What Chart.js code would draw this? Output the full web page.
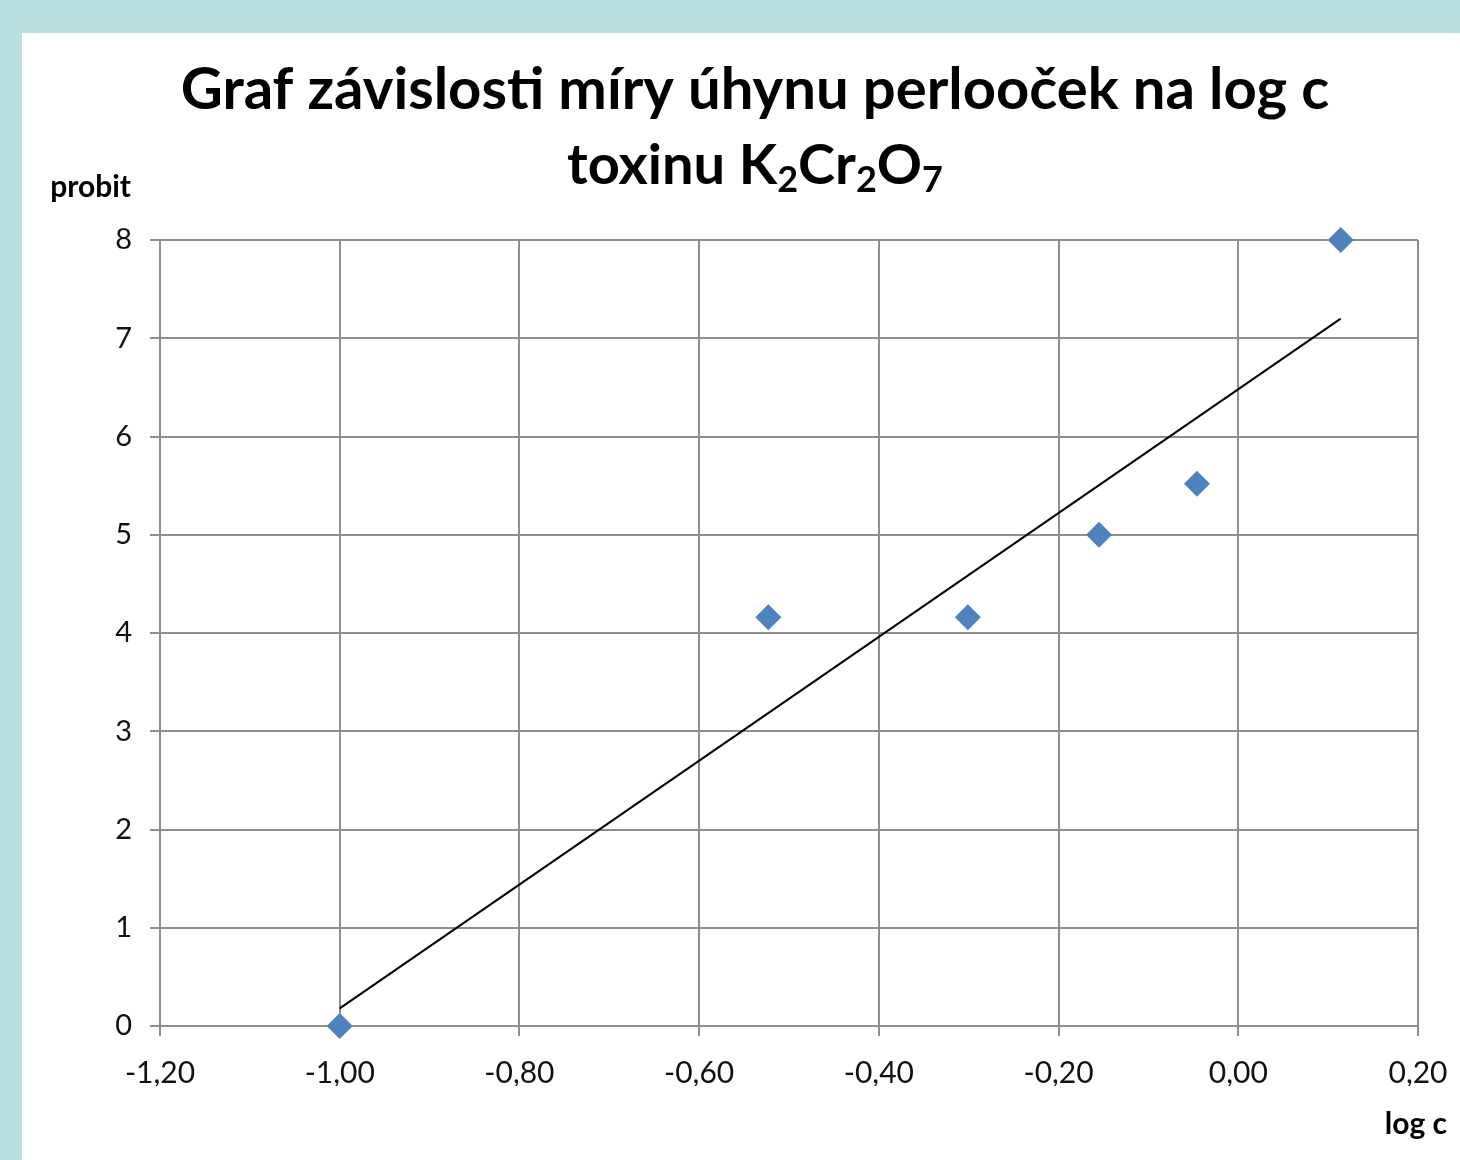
<!DOCTYPE html>
<html lang="cs">
<head>
  <meta charset="UTF-8" />
  <title>Graf závislosti míry úhynu perlooček na log c</title>
  <script src="https://cdn.jsdelivr.net/npm/chart.js"></script>
  <style>
    html, body { margin: 0; padding: 0; }
    body { background: #badfe2; width: 1460px; height: 1160px; position: relative; overflow: hidden; }
    #panel { position: absolute; left: 22px; top: 33px; width: 1438px; height: 1127px; background: #fff; }
  </style>
</head>
<body>
  <div id="panel"><canvas id="probitChart"></canvas></div>

  <script>
    // measured points: log c vs probit
    const logC = [-1.00, -0.523, -0.301, -0.155, -0.046, 0.114];
    const probit = [0, 4.16, 4.16, 5.00, 5.52, 8.00];
    // trend line end points
    const trendX = [-1.00, 0.114];
    const trendY = [0.18, 7.20];
    const xTickLabels = ['-1,20', '-1,00', '-0,80', '-0,60', '-0,40', '-0,20', '0,00', '0,20'];
    const yTickLabels = ['0', '1', '2', '3', '4', '5', '6', '7', '8'];

    const titleLine1 = 'Graf závislosti míry úhynu perlooček na log c';
    // second line split into normal / subscript parts
    const titleLine2 = [['toxinu K', false], ['2', true], ['Cr', false], ['2', true], ['O', false], ['7', true]];

    const FONT = 'Lato, "Open Sans", sans-serif';
    const gridColor = '#8e8e8e';

    const textPlugin = {
      id: 'texts',
      afterDraw(chart) {
        const ctx = chart.ctx;
        ctx.save();
        ctx.fillStyle = '#000';
        ctx.textBaseline = 'alphabetic';

        // title
        const cx = 733;
        ctx.font = 'bold 58px ' + FONT;
        ctx.textAlign = 'center';
        ctx.fillText(titleLine1, cx, 76);

        ctx.textAlign = 'left';
        let total = 0;
        titleLine2.forEach(([t, sub]) => {
          ctx.font = 'bold ' + (sub ? 36 : 56) + 'px ' + FONT;
          total += ctx.measureText(t).width;
        });
        let x = cx - total / 2;
        titleLine2.forEach(([t, sub]) => {
          ctx.font = 'bold ' + (sub ? 36 : 56) + 'px ' + FONT;
          ctx.fillText(t, x, sub ? 159 : 151);
          x += ctx.measureText(t).width;
        });

        // axis titles
        ctx.font = 'bold 30px ' + FONT;
        ctx.textAlign = 'right';
        ctx.fillText('probit', 109, 164);
        ctx.fillText('log c', 1425, 1101);
        ctx.restore();
      }
    };

    new Chart(document.getElementById('probitChart'), {
      type: 'scatter',
      data: {
        datasets: [
          {
            label: 'probit',
            data: logC.map((v, i) => ({ x: v, y: probit[i] })),
            pointStyle: 'rectRot',
            pointRadius: 13,
            pointHoverRadius: 13,
            backgroundColor: '#4f81bd',
            borderColor: '#4f81bd',
            borderWidth: 0,
            clip: false
          },
          {
            label: 'trend',
            data: trendX.map((v, i) => ({ x: v, y: trendY[i] })),
            showLine: true,
            borderColor: '#000',
            borderWidth: 2,
            pointRadius: 0,
            fill: false
          }
        ]
      },
      options: {
        responsive: true,
        maintainAspectRatio: false,
        animation: false,
        layout: { padding: { top: 207, left: 0, right: 42, bottom: 74 } },
        plugins: {
          legend: { display: false },
          title: { display: false },
          tooltip: { enabled: false }
        },
        scales: {
          x: {
            type: 'linear',
            min: -1.2,
            max: 0.2,
            ticks: {
              stepSize: 0.2,
              padding: 19,
              color: '#111',
              font: { family: FONT, size: 30 },
              maxRotation: 0,
              callback: (v, i) => xTickLabels[i]
            },
            grid: { color: gridColor, lineWidth: 2, tickLength: 10 },
            border: { color: gridColor, width: 2 },
            afterFit: s => { s.height = 60; s.paddingLeft = 0; s.paddingRight = 0; }
          },
          y: {
            min: 0,
            max: 8,
            ticks: {
              stepSize: 1,
              padding: 18,
              color: '#111',
              font: { family: FONT, size: 29 },
              callback: (v, i) => yTickLabels[i]
            },
            grid: { color: gridColor, lineWidth: 2, tickLength: 10 },
            border: { color: gridColor, width: 2 },
            afterFit: s => { s.width = 138; s.paddingTop = 0; s.paddingBottom = 0; }
          }
        }
      },
      plugins: [textPlugin]
    });
  </script>
</body>
</html>
